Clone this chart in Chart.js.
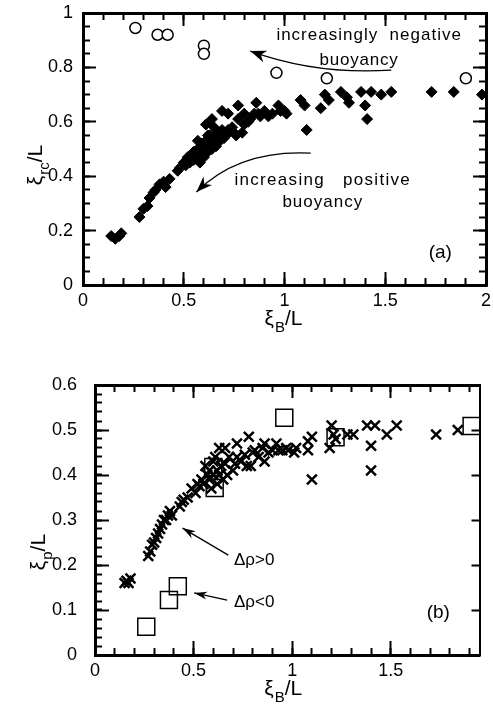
<!DOCTYPE html>
<html>
<head>
<meta charset="utf-8">
<script src="https://cdn.jsdelivr.net/npm/chart.js@4.4.0/dist/chart.umd.min.js"></script>
<style>
	html, body { margin: 0; padding: 0; background: #fff; }
	canvas { position: absolute; left: 0; }
	#chartA { top: 0; }
	#chartB { top: 355px; }
</style>
</head>
<body>
<canvas id="chartA" width="493" height="355"></canvas>
<canvas id="chartB" width="493" height="356"></canvas>
<script>
(function () {
	'use strict';

	// (a) solid diamonds: xi_rc/L against xi_B/L
	var solidX = [0.14, 0.16, 0.18, 0.19, 0.28, 0.30, 0.32, 0.33, 0.35, 0.36, 0.38, 0.40, 0.41, 0.43, 0.47, 0.48,
		0.50, 0.51, 0.52, 0.53, 0.54, 0.55, 0.55, 0.56, 0.57, 0.58, 0.58, 0.59, 0.59, 0.60, 0.60, 0.61, 0.61, 0.62,
		0.62, 0.63, 0.63, 0.64, 0.64, 0.65, 0.65, 0.66, 0.67, 0.68, 0.69, 0.70, 0.71, 0.72, 0.72, 0.74, 0.75, 0.76,
		0.77, 0.77, 0.79, 0.80, 0.80, 0.82, 0.83, 0.85, 0.86, 0.87, 0.88, 0.90, 0.92, 0.94, 0.97, 0.98, 1.00, 1.01,
		0.57, 0.62, 0.66, 0.69,
		1.08, 1.10, 1.11, 1.18, 1.20, 1.22, 1.28, 1.31, 1.32, 1.38, 1.40, 1.41, 1.43, 1.48, 1.53, 1.73, 1.84, 1.98];
	var solidY = [0.18, 0.17, 0.18, 0.19, 0.25, 0.28, 0.29, 0.32, 0.34, 0.35, 0.37, 0.38, 0.36, 0.39, 0.42, 0.43,
		0.45, 0.44, 0.47, 0.45, 0.48, 0.46, 0.49, 0.47, 0.50, 0.48, 0.45, 0.51, 0.52, 0.47, 0.50, 0.53, 0.59, 0.49,
		0.55, 0.52, 0.55, 0.50, 0.61, 0.53, 0.58, 0.51, 0.56, 0.53, 0.64, 0.54, 0.55, 0.63, 0.57, 0.58, 0.56, 0.55,
		0.61, 0.66, 0.56, 0.59, 0.63, 0.60, 0.61, 0.63, 0.67, 0.63, 0.62, 0.64, 0.62, 0.63, 0.66, 0.64, 0.64, 0.63,
		0.53, 0.51, 0.54, 0.57,
		0.68, 0.66, 0.57, 0.65, 0.70, 0.68, 0.71, 0.69, 0.67, 0.71, 0.66, 0.61, 0.71, 0.70, 0.71, 0.71, 0.71, 0.70];

	// (a) open circles
	var openX = [0.26, 0.37, 0.42, 0.60, 0.60, 0.96, 1.21, 1.90];
	var openY = [0.945, 0.92, 0.92, 0.88, 0.85, 0.78, 0.76, 0.76];

	// (b) crosses, delta rho > 0
	var crossX = [0.15, 0.16, 0.17, 0.18, 0.27, 0.28, 0.29, 0.30, 0.31, 0.32, 0.33, 0.34, 0.35, 0.36, 0.37, 0.38,
		0.39, 0.43, 0.44, 0.45, 0.47, 0.49, 0.51, 0.52, 0.53, 0.54, 0.55, 0.56, 0.57, 0.58, 0.58, 0.59, 0.60, 0.60,
		0.61, 0.62, 0.62, 0.63, 0.63, 0.64, 0.65, 0.66, 0.66, 0.67, 0.68, 0.70, 0.71, 0.72, 0.72, 0.74, 0.76, 0.77,
		0.78, 0.79, 0.80, 0.81, 0.83, 0.85, 0.86, 0.86, 0.88, 0.90, 0.92, 0.93, 0.95, 0.97, 0.98, 1.01, 1.02,
		1.08, 1.08, 1.10, 1.10, 1.19, 1.20, 1.21, 1.22, 1.28, 1.31, 1.38, 1.40, 1.40, 1.42, 1.48, 1.53, 1.73, 1.84];
	var crossY = [0.16, 0.165, 0.16, 0.17, 0.22, 0.23, 0.245, 0.25, 0.26, 0.27, 0.28, 0.29, 0.30, 0.30, 0.31, 0.32,
		0.31, 0.33, 0.34, 0.345, 0.35, 0.37, 0.36, 0.38, 0.375, 0.39, 0.38, 0.42, 0.40, 0.39, 0.41, 0.37, 0.40, 0.43,
		0.44, 0.38, 0.41, 0.46, 0.40, 0.42, 0.39, 0.425, 0.46, 0.40, 0.44, 0.41, 0.425, 0.47, 0.44, 0.43, 0.445, 0.42,
		0.485, 0.42, 0.45, 0.455, 0.44, 0.46, 0.47, 0.43, 0.45, 0.455, 0.47, 0.455, 0.455, 0.46, 0.455, 0.45, 0.46,
		0.455, 0.475, 0.485, 0.39, 0.46, 0.51, 0.49, 0.48, 0.49, 0.49, 0.51, 0.465, 0.41, 0.51, 0.49, 0.51, 0.49, 0.50];

	// (b) open squares, delta rho < 0
	var squareX = [0.26, 0.375, 0.42, 0.60, 0.607, 0.96, 1.22, 1.91];
	var squareY = [0.063, 0.122, 0.153, 0.418, 0.371, 0.527, 0.484, 0.509];

	var FONT = '"Liberation Sans", Arial, Helvetica, sans-serif';

	function pts(xs, ys) {
		return xs.map(function (x, i) { return { x: x, y: ys[i] }; });
	}

	function fmt(v) {
		return String(Math.round(v * 100) / 100);
	}

	// one axis of the boxed frame; negative tickLength turns the marks inward
	function frameAxis(pos, min, max, step, o) {
		return {
			type: 'linear',
			position: pos,
			min: min,
			max: max,
			weight: o.weight || 0,
			grid: {
				display: true,
				drawOnChartArea: false,
				drawTicks: true,
				tickLength: -o.tick,
				tickWidth: 2,
				tickColor: '#000'
			},
			border: {
				display: !!o.border,
				width: o.borderWidth || 3,
				color: '#000',
				dash: o.dash || []
			},
			ticks: {
				display: !!o.labels,
				stepSize: step,
				includeBounds: false,
				padding: (o.pad || 0) + o.tick,
				color: '#000',
				font: { family: FONT, size: 18 },
				maxRotation: 0,
				autoSkip: false,
				callback: fmt
			},
			afterFit: function (s) {
				if (s.isHorizontal()) { s.height = o.size || 0; } else { s.width = o.size || 0; }
				s.paddingLeft = 0;
				s.paddingRight = 0;
				s.paddingTop = 0;
				s.paddingBottom = 0;
			}
		};
	}

	function drawTitle(ctx, parts, x, y, rotate) {
		ctx.save();
		ctx.translate(x, y);
		if (rotate) {
			ctx.rotate(-Math.PI / 2);
		}
		ctx.fillStyle = '#000';
		ctx.textBaseline = 'alphabetic';
		ctx.textAlign = 'left';
		var widths = [];
		var total = 0;
		parts.forEach(function (p) {
			ctx.font = (p.sub ? '15px ' : '21px ') + FONT;
			var w = ctx.measureText(p.t).width + (p.sub ? 1 : 0);
			widths.push(w);
			total += w;
		});
		var cx = -total / 2;
		parts.forEach(function (p, i) {
			ctx.font = (p.sub ? '15px ' : '21px ') + FONT;
			ctx.fillText(p.t, cx + (p.sub ? 1 : 0), p.sub ? 7 : 0);
			cx += widths[i];
		});
		ctx.restore();
	}

	function arrowHead(ctx, tip, from, len, half) {
		var ang = Math.atan2(tip.y - from.y, tip.x - from.x);
		var c = Math.cos(ang), s = Math.sin(ang);
		ctx.beginPath();
		ctx.moveTo(tip.x, tip.y);
		ctx.lineTo(tip.x - len * c + half * s, tip.y - len * s - half * c);
		ctx.lineTo(tip.x - len * 0.7 * c, tip.y - len * 0.7 * s);
		ctx.lineTo(tip.x - len * c - half * s, tip.y - len * s + half * c);
		ctx.closePath();
		ctx.fill();
	}

	// text notes, arrows and axis titles; settings live in the closure
	function decor(o) {
		return {
			id: 'decor',
			afterDraw: function (chart) {
				var ctx = chart.ctx;
				var a = chart.chartArea;
				var sx = chart.scales.x;
				var sy = chart.scales.y;
				var px = function (p) {
					return { x: sx.getPixelForValue(p[0]), y: sy.getPixelForValue(p[1]) };
				};

				ctx.save();
				ctx.setLineDash([]);
				ctx.fillStyle = '#000';
				ctx.strokeStyle = '#000';
				ctx.textBaseline = 'middle';
				o.texts.forEach(function (t) {
					var p = px(t.at);
					ctx.font = (t.size || 17) + 'px ' + FONT;
					ctx.letterSpacing = (t.spacing || 0) + 'px';
					ctx.textAlign = t.align || 'center';
					ctx.fillText(t.text, p.x, p.y);
				});
				ctx.letterSpacing = '0px';

				ctx.lineWidth = 1.3;
				o.arrows.forEach(function (ar) {
					var s = px(ar.from);
					var e = px(ar.to);
					var c = ar.via ? px(ar.via) : s;
					ctx.beginPath();
					ctx.moveTo(s.x, s.y);
					if (ar.via) {
						ctx.quadraticCurveTo(c.x, c.y, e.x, e.y);
					} else {
						ctx.lineTo(e.x, e.y);
					}
					ctx.stroke();
					arrowHead(ctx, e, c, ar.head || 13, ar.half || 5);
				});
				ctx.restore();

				var xt = o.xTitle;
				drawTitle(ctx, xt.parts, (a.left + a.right) / 2 + xt.dx, a.bottom + xt.dy, false);
				var yt = o.yTitle;
				drawTitle(ctx, yt.parts, a.left - yt.dx, (a.top + a.bottom) / 2 + yt.dy, true);
			}
		};
	}

	var base = {
		responsive: false,
		animation: false,
		events: [],
		plugins: { legend: { display: false }, tooltip: { enabled: false } }
	};

	new Chart(document.getElementById('chartA'), {
		type: 'scatter',
		data: {
			datasets: [{
				data: pts(solidX, solidY),
				pointStyle: 'rectRot',
				pointRadius: 5.5,
				backgroundColor: '#000',
				borderColor: '#000',
				borderWidth: 1
			}, {
				data: pts(openX, openY),
				pointStyle: 'circle',
				pointRadius: 5.5,
				backgroundColor: '#fff',
				borderColor: '#000',
				borderWidth: 1.5
			}]
		},
		options: Object.assign({}, base, {
			layout: { padding: { left: 0, right: 5, top: 13, bottom: 0 } },
			scales: {
				x: frameAxis('bottom', 0, 2, 0.5, { tick: 13, labels: true, border: true, pad: 5, size: 70 }),
				xm: frameAxis('bottom', 0, 2, 0.1, { tick: 7, weight: -1 }),
				xt: frameAxis('top', 0, 2, 0.5, { tick: 13, border: true }),
				xtm: frameAxis('top', 0, 2, 0.1, { tick: 7, weight: -1 }),
				y: frameAxis('left', 0, 1, 0.2, { tick: 13, labels: true, border: true, pad: 10, size: 83 }),
				ym: frameAxis('left', 0, 1, 0.05, { tick: 7, weight: -1 }),
				yr: frameAxis('right', 0, 1, 0.2, { tick: 13, border: true }),
				yrm: frameAxis('right', 0, 1, 0.05, { tick: 7, weight: -1 })
			}
		}),
		plugins: [decor({
			texts: [
				{ text: 'increasingly  negative', at: [1.42, 0.919], spacing: 1 },
				{ text: 'buoyancy', at: [1.37, 0.827], spacing: 0.8 },
				{ text: 'increasing   positive', at: [1.19, 0.386], spacing: 1.3 },
				{ text: 'buoyancy', at: [1.19, 0.305], spacing: 1 },
				{ text: '(a)', at: [1.773, 0.118], size: 19 }
			],
			arrows: [
				{ from: [1.53, 0.79], via: [1.16, 0.772], to: [0.83, 0.86], head: 16, half: 6 },
				{ from: [1.13, 0.485], via: [0.773, 0.498], to: [0.563, 0.342], head: 16, half: 6 }
			],
			xTitle: { parts: [{ t: 'ξ' }, { t: 'B', sub: true }, { t: '/L' }], dx: -1, dy: 40 },
			yTitle: { parts: [{ t: 'ξ' }, { t: 'rc', sub: true }, { t: '/L' }], dx: 41, dy: 16 }
		})]
	});

	new Chart(document.getElementById('chartB'), {
		type: 'scatter',
		data: {
			datasets: [{
				data: pts(crossX, crossY),
				pointStyle: 'crossRot',
				pointRadius: 7,
				borderColor: '#000',
				borderWidth: 2.5
			}, {
				data: pts(squareX, squareY),
				pointStyle: 'rect',
				pointRadius: 12,
				backgroundColor: 'rgba(0,0,0,0)',
				borderColor: '#000',
				borderWidth: 1.5
			}]
		},
		options: Object.assign({}, base, {
			layout: { padding: { left: 0, right: 3, top: 30, bottom: 0 } },
			scales: {
				x: frameAxis('bottom', 0, 1.95, 0.5, { tick: 14, labels: true, border: true, pad: 5, size: 56 }),
				xm: frameAxis('bottom', 0, 1.95, 0.1, { tick: 7, weight: -1 }),
				xt: frameAxis('top', 0, 1.95, 0.5, { tick: 13, border: true }),
				xtm: frameAxis('top', 0, 1.95, 0.1, { tick: 7, weight: -1 }),
				y: frameAxis('left', 0, 0.6, 0.1, { tick: 14, labels: true, border: true, pad: 18, size: 95 }),
				ym: frameAxis('left', 0, 0.6, 0.02, { tick: 7, weight: -1 }),
				yr: frameAxis('right', 0, 0.6, 0.1, { tick: 8, border: true, borderWidth: 2, dash: [2, 3] })
			}
		}),
		plugins: [decor({
			texts: [
				{ text: 'Δρ>0', at: [0.705, 0.211], align: 'left' },
				{ text: 'Δρ<0', at: [0.705, 0.116], align: 'left' },
				{ text: '(b)', at: [1.741, 0.093], size: 19 }
			],
			arrows: [
				{ from: [0.676, 0.222], to: [0.444, 0.282], head: 13, half: 4 },
				{ from: [0.67, 0.122], to: [0.503, 0.138], head: 13, half: 4 }
			],
			xTitle: { parts: [{ t: 'ξ' }, { t: 'B', sub: true }, { t: '/L' }], dx: -4, dy: 40 },
			yTitle: { parts: [{ t: 'ξ' }, { t: 'p', sub: true }, { t: '/L' }], dx: 50, dy: 32 }
		})]
	});
})();
</script>
</body>
</html>
